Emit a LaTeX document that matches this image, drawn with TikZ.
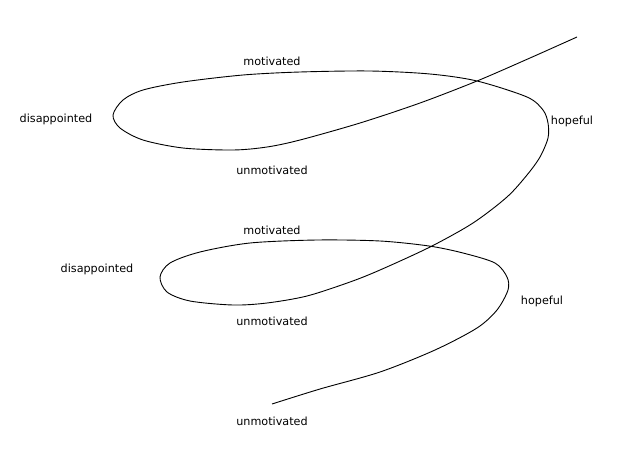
\documentclass[tikz,border=0pt]{standalone}
\usepackage{fontspec}
\setmainfont{DejaVu Sans}
\begin{document}
\begin{tikzpicture}[x=1pt,y=-1pt,
  lbl/.style={inner sep=0pt,font=\fontsize{11.2}{13}\selectfont},
  spiral/.style={line width=0.9pt,line join=round}]
\useasboundingbox[fill=white] (0,0) rectangle (621,450);
\node[lbl] (mot1) at (272,61) {motivated};
\node[lbl] (dis1) at (56,119) {disappointed};
\node[lbl] (hop1) at (572,121) {hopeful};
\node[lbl] (unm1) at (272,170) {unmotivated};
\node[lbl] (mot2) at (272,230) {motivated};
\node[lbl] (dis2) at (97,269) {disappointed};
\node[lbl] (hop2) at (542,301) {hopeful};
\node[lbl] (unm2) at (272,321) {unmotivated};
\node[lbl] (unm3) at (272,421) {unmotivated};
\coordinate (start) at (577,37);
\coordinate (finish) at (272,404);
\draw[spiral] plot[smooth,tension=0.5] coordinates {
 (start) (530,58) (477,81) (420,103) (360,123) (300,140) (267,147)
 (233,150) (183,148) (143,140) (120,128) (113,115) (123,100) (143,90)
 (183,82) (243,75) (300,72) (370,71) (430,74) (477,81) (527,97)
 (543,110) (548,123) (548,138) (540,157) (527,175) (507,197) (473,223)
 (430,247) (380,270) (350,282) (307,296) (267,303) (233,305) (190,301)
 (167,292) (160,277) (170,263) (200,252) (250,243) (317,240) (380,241)
 (429,246) (463,253) (495,263) (507,277) (508,290) (497,310) (477,328)
 (435,350) (380,372) (320,389) (finish)};
\end{tikzpicture}
\end{document}
